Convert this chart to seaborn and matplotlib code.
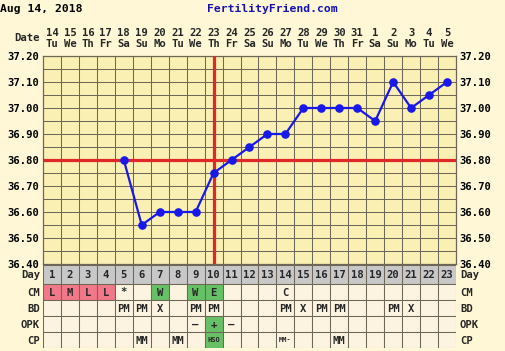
import numpy as np
import matplotlib
matplotlib.use("Agg")
import matplotlib.pyplot as plt
import matplotlib.transforms as mtransforms
from matplotlib.patches import Rectangle
import seaborn as sns

# chart data
days = list(range(1, 24))
dates = ["14", "15", "16", "17", "18", "19", "20", "21", "22", "23", "24", "25",
         "26", "27", "28", "29", "30", "31", "1", "2", "3", "4", "5"]
weekdays = ["Tu", "We", "Th", "Fr", "Sa", "Su", "Mo", "Tu", "We", "Th", "Fr", "Sa",
            "Su", "Mo", "Tu", "We", "Th", "Fr", "Sa", "Su", "Mo", "Tu", "We"]
temp_days = list(range(5, 24))
temps = [36.80, 36.55, 36.60, 36.60, 36.60, 36.75, 36.80, 36.85, 36.90, 36.90,
         37.00, 37.00, 37.00, 37.00, 36.95, 37.10, 37.00, 37.05, 37.10]
y_labels = ["36.40", "36.50", "36.60", "36.70", "36.80", "36.90", "37.00", "37.10", "37.20"]
coverline = 36.80
ovulation_day = 10

cm = ["L", "M", "L", "L", "*", "", "W", "", "W", "E", "", "", "", "C",
      "", "", "", "", "", "", "", "", ""]
bd = ["", "", "", "", "PM", "PM", "X", "", "PM", "PM", "", "", "", "PM",
      "X", "PM", "PM", "", "", "PM", "X", "", ""]
opk = ["", "", "", "", "", "", "", "", "\u2013", "+", "\u2013", "", "", "",
       "", "", "", "", "", "", "", "", ""]
cp = ["", "", "", "", "", "MM", "", "MM", "", "HSO", "", "", "", "MM-",
      "", "", "MM", "", "", "", "", "", ""]

# colours
fig_bg = "#fff7d6"
plot_bg = "#fbf0b4"
cell_bg = "#fcf4e0"
grid_c = "#6e6656"
day_bg = "#c8c8c8"
cell_colors = {"L": "#f07888", "M": "#f07888", "W": "#66c066", "E": "#66c066",
               "+": "#66c066", "HSO": "#66c066"}

sns.set_theme(style="white")
plt.rcParams["font.family"] = ["DejaVu Sans Mono", "DejaVu Sans"]
plt.rcParams["font.weight"] = "bold"
FS = 7.6

W, H = 505, 351
fig = plt.figure(figsize=(W / 100, H / 100), dpi=100, facecolor=fig_bg)

x0, x1 = 43, 456
ptop, pbot = 56, 264
ax = fig.add_axes([x0 / W, 1 - pbot / H, (x1 - x0) / W, (pbot - ptop) / H])
ax.set_facecolor(plot_bg)

sns.lineplot(x=temp_days, y=temps, ax=ax, color="#1818e8", marker="o",
             markersize=6.2, markeredgewidth=0, linewidth=1.6, zorder=5)

ax.set_xlim(0.5, 23.5)
ax.set_ylim(36.40, 37.20)
ax.set_xticks(np.arange(1.5, 23.5, 1))
ax.set_xticklabels([])
ax.set_yticks([float(v) for v in y_labels])
ax.set_yticklabels(y_labels)
ax.set_yticks(np.arange(36.45, 37.2, 0.1), minor=True)
ax.grid(True, which="both", color=grid_c, linewidth=0.75)
ax.tick_params(axis="both", which="both", length=0)
ax.tick_params(axis="y", labelright=True, labelsize=FS, pad=2.5, labelcolor="black")
for lab in ax.get_yticklabels():
    lab.set_fontweight("bold")
ax.set_xlabel("")
ax.set_ylabel("")
for s in ax.spines.values():
    s.set_color(grid_c)
    s.set_linewidth(0.9)

ax.axhline(coverline, color="#e02828", linewidth=2.3, zorder=4)
ax.axvline(ovulation_day, color="#e02828", linewidth=2.3, zorder=4)

# header
fig.text(0 / W, 1 - 9 / H, "Aug 14, 2018", ha="left", va="center", fontsize=8.2,
         fontweight="bold", color="black")
fig.text(272 / W, 1 - 9 / H, "FertilityFriend.com", ha="center", va="center",
         fontsize=8.2, fontweight="bold", color="#1414b4")
fig.text(40 / W, 1 - 38 / H, "Date", ha="right", va="center", fontsize=FS,
         fontweight="bold")
tr = mtransforms.blended_transform_factory(ax.transData, fig.transFigure)
for d, dt, wd in zip(days, dates, weekdays):
    ax.text(d, 1 - 33 / H, dt, transform=tr, ha="center", va="center",
            fontsize=FS, fontweight="bold", clip_on=False)
    ax.text(d, 1 - 44 / H, wd, transform=tr, ha="center", va="center",
            fontsize=FS, fontweight="bold", clip_on=False)

# table below
ttop, tbot = 265, 348
axt = fig.add_axes([x0 / W, 1 - tbot / H, (x1 - x0) / W, (tbot - ttop) / H])
axt.set_xlim(0.5, 23.5)
axt.set_ylim(tbot - ttop, 0)
axt.axis("off")

row_names = ["Day", "CM", "BD", "OPK", "CP"]
row_edges = [0, 19, 35, 51, 67, 83]
rows = [[str(d) for d in days], cm, bd, opk, cp]
for r, (name, vals) in enumerate(zip(row_names, rows)):
    y0, y1 = row_edges[r], row_edges[r + 1]
    for d, v in zip(days, vals):
        fc = day_bg if r == 0 else cell_colors.get(v, cell_bg)
        axt.add_patch(Rectangle((d - 0.5, y0), 1, y1 - y0, facecolor=fc,
                                edgecolor=grid_c, linewidth=0.75))
        if v:
            fs = 5.0 if v in ("HSO", "MM-") else FS
            axt.text(d, (y0 + y1) / 2 + 0.5, v, ha="center", va="center",
                     fontsize=fs, fontweight="bold")
    ty = mtransforms.blended_transform_factory(fig.transFigure, axt.transData)
    axt.text(40 / W, (y0 + y1) / 2 + 0.5, name, transform=ty, ha="right",
             va="center", fontsize=FS, fontweight="bold", clip_on=False)
    axt.text(460 / W, (y0 + y1) / 2 + 0.5, name, transform=ty, ha="left",
             va="center", fontsize=FS, fontweight="bold", clip_on=False)

fig.savefig("out.png", dpi=100, facecolor=fig_bg)
